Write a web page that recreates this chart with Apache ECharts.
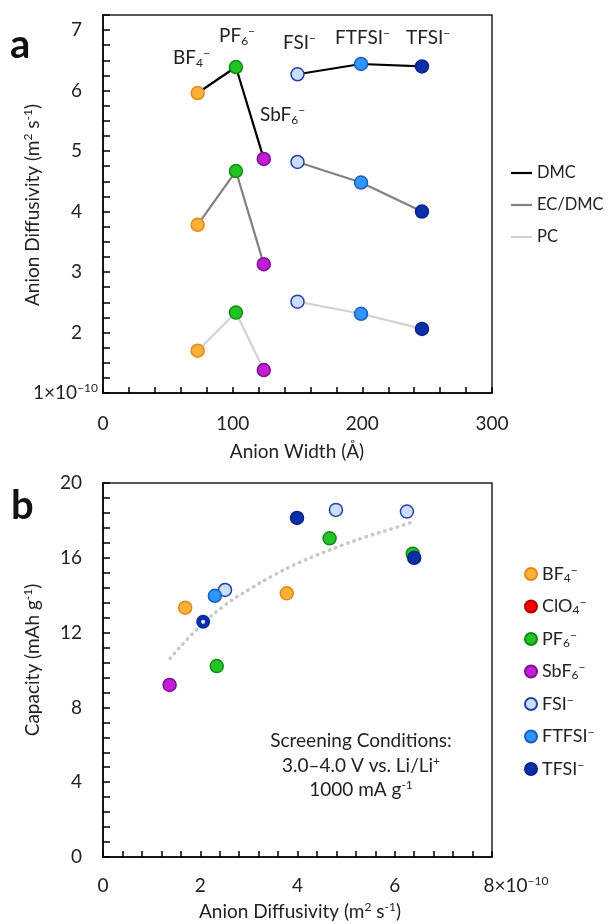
<!DOCTYPE html>
<html><head><meta charset="utf-8">
<script src="https://cdn.jsdelivr.net/npm/echarts@6/dist/echarts.min.js"></script>
<style>html,body{margin:0;padding:0;background:#fff}#c{width:612px;height:924px}</style>
</head><body><div id="c"></div>
<script>
// ---- Panel a: anion diffusivity vs anion width ----
const topAnions = ['BF4', 'PF6', 'SbF6', 'FSI', 'FTFSI', 'TFSI'];
const anionWidth = [73, 102.5, 124, 150, 199, 246];
const diffDMC = [5.96, 6.39, 4.87, 6.27, 6.44, 6.40];
const diffECDMC = [3.78, 4.67, 3.13, 4.82, 4.48, 4.00];
const diffPC = [1.70, 2.33, 1.38, 2.51, 2.31, 2.06];
const solvents = ['DMC', 'EC/DMC', 'PC'];

// ---- Panel b: capacity vs anion diffusivity (x in 1e-10 m2/s) ----
const legendAnions = ['BF4', 'ClO4', 'PF6', 'SbF6', 'FSI', 'FTFSI', 'TFSI'];
const capBF4 = [[1.69, 13.33], [3.78, 14.10]];
const capClO4 = [];
const capPF6 = [[2.34, 10.21], [4.66, 17.04], [6.37, 16.22]];
const capSbF6 = [[1.37, 9.20]];
const capFSI = [[2.51, 14.28], [4.79, 18.56], [6.25, 18.47]];
const capFTFSI = [[2.30, 13.97]];
const capTFSI = [[2.06, 12.58], [3.99, 18.13], [6.40, 16.00]];
const trendX = [1.38, 2.0, 2.5, 3.0, 3.5, 4.0, 4.5, 5.0, 5.5, 6.0, 6.35];
const trendY = [10.62, 12.35, 13.45, 14.3, 15.05, 15.7, 16.25, 16.75, 17.2, 17.6, 17.9];

const FONT = 'Lato';
const TXT = '#222';
const rich = {
  n: { fontSize: 19, fontFamily: FONT, color: TXT, lineHeight: 22 },
  sup: { fontSize: 12, fontFamily: FONT, color: TXT, verticalAlign: 'top', lineHeight: 10 },
  sub: { fontSize: 12, fontFamily: FONT, color: TXT, verticalAlign: 'bottom', lineHeight: 8 },
  pad: { width: 16 },
  pad8: { width: 48 }
};
const legRich = {
  n: { fontSize: 18, fontFamily: FONT, color: TXT, lineHeight: 20 },
  sup: { fontSize: 12, fontFamily: FONT, color: TXT, verticalAlign: 'top', lineHeight: 9 },
  sub: { fontSize: 12, fontFamily: FONT, color: TXT, verticalAlign: 'bottom', lineHeight: 7 }
};
const anionRich = {
  BF4: '{n|BF}{sub|4}{sup|−}', ClO4: '{n|ClO}{sub|4}{sup|−}', PF6: '{n|PF}{sub|6}{sup|−}',
  SbF6: '{n|SbF}{sub|6}{sup|−}', FSI: '{n|FSI}{sup|−}', FTFSI: '{n|FTFSI}{sup|−}', TFSI: '{n|TFSI}{sup|−}'
};
const anionStyle = {
  BF4: { color: '#FBB03B', borderColor: '#E38A12' },
  ClO4: { color: '#FF0000', borderColor: '#B00000' },
  PF6: { color: '#22C322', borderColor: '#128A12' },
  SbF6: { color: '#C41CD6', borderColor: '#7D108F' },
  FSI: { color: '#C9DEF8', borderColor: '#2A3FA5' },
  FTFSI: { color: '#2E96FF', borderColor: '#1D5FBF' },
  TFSI: { color: '#0B2FA6', borderColor: '#0A238A' }
};
const lineColors = { 'DMC': '#000000', 'EC/DMC': '#808080', 'PC': '#D2D2D2' };
const solventData = { 'DMC': diffDMC, 'EC/DMC': diffECDMC, 'PC': diffPC };
const capData = { BF4: capBF4, ClO4: capClO4, PF6: capPF6, SbF6: capSbF6, FSI: capFSI, FTFSI: capFTFSI, TFSI: capTFSI };

const series = [];
solvents.forEach(s => {
  [[0, 1, 2], [3, 4, 5]].forEach(idx => {
    series.push({
      type: 'line', name: s, xAxisIndex: 0, yAxisIndex: 0, symbol: 'none', silent: true, z: 2,
      data: idx.map(i => [anionWidth[i], solventData[s][i]]),
      lineStyle: { color: lineColors[s], width: 2.2 }, itemStyle: { color: lineColors[s] }
    });
  });
});
topAnions.forEach((a, i) => {
  series.push({
    type: 'scatter', name: a, xAxisIndex: 0, yAxisIndex: 0, symbolSize: 13, z: 3,
    data: solvents.map(s => [anionWidth[i], solventData[s][i]]),
    itemStyle: Object.assign({ borderWidth: 1.5, opacity: 1 }, anionStyle[a])
  });
});
series.push({
  type: 'line', name: 'trend', xAxisIndex: 1, yAxisIndex: 1, symbol: 'none', smooth: true, silent: true, z: 1,
  data: trendX.map((x, i) => [x, trendY[i]]),
  lineStyle: { color: '#C8C8C8', width: 3.5, type: [0.5, 6], cap: 'round' }
});
legendAnions.forEach(a => {
  const d = capData[a].map((p, k) => {
    if (a === 'TFSI' && k === 0) return { value: p, symbolSize: 9, itemStyle: { color: '#E6ECFA', borderColor: '#0B2FA6', borderWidth: 5 } };
    return p;
  });
  series.push({
    type: 'scatter', name: a, xAxisIndex: 1, yAxisIndex: 1, symbolSize: 13, z: 3, data: d,
    itemStyle: Object.assign({ borderWidth: 1.5, opacity: 1 }, anionStyle[a])
  });
});

const near = (v, m) => Math.abs(v / m - Math.round(v / m)) < 1e-6;
const axisCommon = {
  type: 'value',
  axisLine: { show: true, lineStyle: { color: '#000', width: 1.5 } },
  splitLine: { show: false },
};

const gtext = (x, y, text, extra) => Object.assign({
  type: 'text', x: x, y: y,
  style: { text: text, rich: rich, align: 'center', verticalAlign: 'middle', textAlign: 'center', textVerticalAlign: 'middle', fill: TXT }
}, extra || {});
const gleft = (x, y, text) => ({
  type: 'text', x: x, y: y,
  style: { text: text, rich: rich, align: 'left', verticalAlign: 'middle', textAlign: 'left', textVerticalAlign: 'middle', fill: TXT }
});

const option = {
  animation: false,
  backgroundColor: '#fff',
  grid: [
    { left: 103, top: 15, width: 389, height: 378, show: true, borderColor: '#222', borderWidth: 1.5, backgroundColor: 'transparent' },
    { left: 103, top: 483, width: 389, height: 374, show: true, borderColor: '#222', borderWidth: 1.5, backgroundColor: 'transparent' }
  ],
  xAxis: [
    Object.assign({}, axisCommon, {
      gridIndex: 0, min: 0, max: 300, interval: 20,
      axisTick: { inside: true, length: 6, interval: 0, lineStyle: { color: '#000', width: 1.5 } },
      axisLabel: { interval: 0, margin: 20, fontSize: 19, fontFamily: FONT, color: TXT, lineHeight: 22,
        formatter: v => near(v, 100) ? String(Math.round(v)) : '' }
    }),
    Object.assign({}, axisCommon, {
      gridIndex: 1, min: 0, max: 8, interval: 0.4,
      axisTick: { inside: true, length: 6, interval: 0, lineStyle: { color: '#000', width: 1.5 } },
      axisLabel: { interval: 0, margin: 18, fontSize: 19, fontFamily: FONT, color: TXT, lineHeight: 22, rich: rich,
        formatter: v => {
          if (Math.abs(v - 8) < 1e-6) return '{pad8|}{n|8×10}{sup|−10}';
          return near(v, 2) ? '{n|' + Math.round(v) + '}' : '';
        } }
    })
  ],
  yAxis: [
    Object.assign({}, axisCommon, {
      gridIndex: 0, min: 1, max: 7.25, interval: 0.25,
      axisTick: { inside: true, length: 7, interval: 0, lineStyle: { color: '#000', width: 1.5 } },
      axisLabel: { interval: 0, margin: 5, fontSize: 19, fontFamily: FONT, color: TXT, rich: rich,
        formatter: v => {
          if (Math.abs(v - 1) < 1e-6) return '{n|1×10}{sup|−10}';
          return near(v, 1) ? '{n|' + Math.round(v) + '}{pad|}' : '';
        } }
    }),
    Object.assign({}, axisCommon, {
      gridIndex: 1, min: 0, max: 20, interval: 0.8,
      axisTick: { inside: true, length: 7, interval: 0, lineStyle: { color: '#000', width: 1.5 } },
      axisLabel: { interval: 0, margin: 5, fontSize: 19, fontFamily: FONT, color: TXT, rich: rich,
        formatter: v => near(v, 4) ? '{n|' + Math.round(v) + '}{pad|}' : '' }
    })
  ],
  legend: [
    { data: solvents, orient: 'vertical', left: 506, top: 158, itemWidth: 21, itemHeight: 2.2, itemGap: 12, icon: 'rect',
      selectedMode: false, textStyle: { fontSize: 16.5, fontFamily: FONT, color: TXT, lineHeight: 20 } },
    { data: legendAnions, orient: 'vertical', left: 519, top: 559, itemWidth: 12, itemHeight: 12, itemGap: 12.5,
      selectedMode: false, formatter: name => anionRich[name],
      textStyle: { fontSize: 18, fontFamily: FONT, color: TXT, lineHeight: 20, rich: legRich } }
  ],
  graphic: [
    { type: 'text', x: 10, y: 45, style: { text: 'a', font: 'bold 40px Lato', fill: '#111', align: 'left', verticalAlign: 'middle', textAlign: 'left', textVerticalAlign: 'middle' } },
    { type: 'text', x: 11, y: 506, style: { text: 'b', font: 'bold 40px Lato', fill: '#111', align: 'left', verticalAlign: 'middle', textAlign: 'left', textVerticalAlign: 'middle' } },
    gleft(173, 58, anionRich.BF4),
    gleft(219, 36, anionRich.PF6),
    gleft(260, 115, anionRich.SbF6),
    gleft(283, 43, anionRich.FSI),
    gleft(335, 38, anionRich.FTFSI),
    gleft(406, 38, anionRich.TFSI),
    gtext(33, 205, '{n|Anion Diffusivity (m}{sup|2}{n| s}{sup|-1}{n|)}', { rotation: Math.PI / 2 }),
    gtext(297, 452, '{n|Anion Width (Å)}'),
    gtext(33, 660, '{n|Capacity (mAh g}{sup|-1}{n|)}', { rotation: Math.PI / 2 }),
    gtext(300, 912, '{n|Anion Diffusivity (m}{sup|2}{n| s}{sup|-1}{n|)}'),
    gtext(361, 741, '{n|Screening Conditions:}'),
    gtext(361, 766, '{n|3.0–4.0 V vs. Li/Li}{sup|+}'),
    gtext(361, 790, '{n|1000 mA g}{sup|-1}')
  ],
  series: series
};
const chart = echarts.init(document.getElementById('c'), null, { renderer: 'canvas' });
chart.setOption(option);
</script></body></html>
